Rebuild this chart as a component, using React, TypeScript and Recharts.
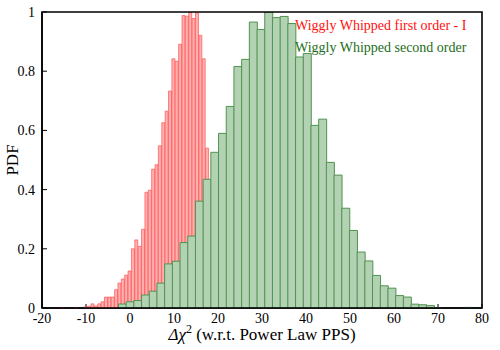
import React from 'react';
import { ComposedChart, Bar, XAxis, YAxis, ReferenceArea, Legend } from 'recharts';

const SERIF = '"Liberation Serif", "Times New Roman", "DejaVu Serif", serif';

// Axis ticks
const xTicks = [-20, -10, 0, 10, 20, 30, 40, 50, 60, 70, 80];
const yTicks = [0, 0.2, 0.4, 0.6, 0.8, 1];

// Wiggly Whipped first order - I : bin centres and normalised PDF
const firstOrderBins = [
  -15.38, -12.32, -10.02, -9.25, -8.49, -7.72, -6.95, -6.19, -5.42, -4.66,
  -3.89, -3.12, -2.36, -1.59, -0.83, -0.06, 0.71, 1.47, 2.24, 3.0,
  3.77, 4.54, 5.3, 6.07, 6.83, 7.6, 8.37, 9.13, 9.9, 10.66,
  11.43, 12.2, 12.96, 13.73, 14.49, 15.26, 16.03, 16.79, 17.56,
];
const firstOrderPdf = [
  0.002, 0.002, 0.004, 0.006, 0.014, 0.007, 0.014, 0.021, 0.037, 0.037,
  0.037, 0.062, 0.084, 0.098, 0.111, 0.125, 0.2, 0.23, 0.208, 0.266,
  0.391, 0.398, 0.469, 0.484, 0.548, 0.626, 0.665, 0.733, 0.842, 0.834,
  0.891, 0.988, 0.986, 1.0, 0.978, 0.997, 0.921, 0.842, 0.54,
];

// Wiggly Whipped second order : bin centres and normalised PDF
const secondOrderBins = [
  -1.75, 0, 1.75, 3.5, 5.25, 7.0, 8.75, 10.5, 12.25, 14.0,
  15.75, 17.5, 19.25, 21.0, 22.75, 24.5, 26.25, 28.0, 29.75, 31.5,
  33.25, 35.0, 36.75, 38.5, 40.25, 42.0, 43.75, 45.5, 47.25, 49.0,
  50.75, 52.5, 54.25, 56.0, 57.75, 59.5, 61.25, 63.0, 64.75, 66.5,
  68.25, 70.0, 77.0,
];
const secondOrderPdf = [
  0.0135, 0.021, 0.025, 0.044, 0.057, 0.084, 0.149, 0.158, 0.221, 0.243,
  0.361, 0.435, 0.526, 0.59, 0.681, 0.816, 0.84, 0.966, 0.941, 1.0,
  0.981, 0.985, 0.961, 0.848, 0.86, 0.617, 0.638, 0.492, 0.449, 0.337,
  0.262, 0.189, 0.159, 0.11, 0.075, 0.067, 0.042, 0.037, 0.013, 0.011,
  0.008, 0.001, 0.002,
];

const seriesNames = ['Wiggly Whipped first order - I', 'Wiggly Whipped second order'];
const xLabelMain = 'Δχ';
const xLabelRest = ' (w.r.t. Power Law PPS)';
const yLabel = 'PDF';

const firstOrderData = firstOrderBins.map((x, i) => ({ x, pdf: firstOrderPdf[i] }));
const secondOrderData = secondOrderBins.map((x, i) => ({ x, pdf: secondOrderPdf[i] }));

const W = 500;
const H = 350;
const PLOT_MARGIN = { top: 12, right: 18, bottom: 42, left: 42 };
const X_DOMAIN: [number, number] = [-20, 80];
const Y_DOMAIN: [number, number] = [0, 1];

const layer: React.CSSProperties = { position: 'absolute', left: 0, top: 0, fontFamily: SERIF };
const chartStyle: React.CSSProperties = { fontFamily: SERIF };
const tickStyle = { fontFamily: SERIF, fontSize: 14, fill: '#000', style: { fontFamily: SERIF } };

const renderXLabel = (props: any) => {
  const vb = props.viewBox || { x: 42, y: 308, width: 440, height: 42 };
  const cx = vb.x + vb.width / 2;
  const y = vb.y + 32;
  return (
    <text x={cx} y={y} textAnchor="middle" style={{ fontFamily: SERIF, fontSize: 17 }} fill="#000">
      <tspan style={{ fontStyle: 'italic' }}>{xLabelMain}</tspan>
      <tspan dy={-7} style={{ fontSize: 12 }}>2</tspan>
      <tspan dy={7}>{xLabelRest}</tspan>
    </text>
  );
};

const renderYLabel = (props: any) => {
  const vb = props.viewBox || { x: 0, y: 12, width: 42, height: 296 };
  const cy = vb.y + vb.height / 2;
  const x = vb.x + 18;
  return (
    <text
      x={x}
      y={cy}
      textAnchor="middle"
      style={{ fontFamily: SERIF, fontSize: 17 }}
      fill="#000"
      transform={`rotate(-90, ${x}, ${cy})`}
    >
      {yLabel}
    </text>
  );
};

const LegendContent = () => (
  <div style={{ fontFamily: SERIF, fontSize: 14, lineHeight: '22px', whiteSpace: 'nowrap' }}>
    <div style={{ color: '#ff1010' }}>{seriesNames[0]}</div>
    <div style={{ color: '#1b6e1b' }}>{seriesNames[1]}</div>
  </div>
);

export default function App() {
  return (
    <div style={{ position: 'absolute', left: 0, top: 0, width: W, height: H, background: '#fff', fontFamily: SERIF }}>
      {/* Axes, ticks and labels (drawn beneath the bars) */}
      <div style={layer}>
        <ComposedChart width={W} height={H} data={firstOrderData} margin={{ top: 12, right: 18, bottom: 0, left: 0 }} style={chartStyle}>
          <XAxis
            dataKey="x"
            type="number"
            domain={X_DOMAIN}
            ticks={xTicks}
            interval={0}
            allowDataOverflow
            height={42}
            tickSize={-4}
            tickMargin={9}
            tick={tickStyle}
            axisLine={{ stroke: '#000', strokeWidth: 1.5 }}
            tickLine={{ stroke: '#000', strokeWidth: 1 }}
            label={{ content: renderXLabel }}
          />
          <YAxis
            type="number"
            domain={Y_DOMAIN}
            ticks={yTicks}
            interval={0}
            allowDataOverflow
            width={42}
            tickSize={-5}
            tickMargin={12}
            tick={tickStyle}
            axisLine={{ stroke: '#000', strokeWidth: 1.5 }}
            tickLine={{ stroke: '#000', strokeWidth: 1 }}
            label={{ content: renderYLabel }}
          />
        </ComposedChart>
      </div>

      {/* First order histogram */}
      <div style={layer}>
        <ComposedChart width={W} height={H} data={firstOrderData} margin={PLOT_MARGIN} barCategoryGap={0} barGap={0}>
          <XAxis dataKey="x" type="number" domain={X_DOMAIN} allowDataOverflow hide />
          <YAxis type="number" domain={Y_DOMAIN} allowDataOverflow hide />
          <Bar
            dataKey="pdf"
            name={seriesNames[0]}
            fill="#ffb0b0"
            stroke="#ff4040"
            strokeWidth={0.6}
            isAnimationActive={false}
          />
        </ComposedChart>
      </div>

      {/* Second order histogram */}
      <div style={layer}>
        <ComposedChart width={W} height={H} data={secondOrderData} margin={PLOT_MARGIN} barCategoryGap={0} barGap={0}>
          <XAxis dataKey="x" type="number" domain={X_DOMAIN} allowDataOverflow hide />
          <YAxis type="number" domain={Y_DOMAIN} allowDataOverflow hide />
          <Bar
            dataKey="pdf"
            name={seriesNames[1]}
            fill="#b3d2b3"
            stroke="#4f934f"
            strokeWidth={1}
            isAnimationActive={false}
          />
          <Legend
            layout="vertical"
            align="center"
            verticalAlign="middle"
            wrapperStyle={{ top: 15, left: 295, width: 'auto', height: 'auto' }}
            content={<LegendContent />}
          />
        </ComposedChart>
      </div>

      {/* Frame */}
      <div style={layer}>
        <ComposedChart width={W} height={H} data={secondOrderData} margin={PLOT_MARGIN}>
          <XAxis dataKey="x" type="number" domain={X_DOMAIN} allowDataOverflow hide />
          <YAxis type="number" domain={Y_DOMAIN} allowDataOverflow hide />
          <ReferenceArea
            x1={X_DOMAIN[0]}
            x2={X_DOMAIN[1]}
            y1={Y_DOMAIN[0]}
            y2={Y_DOMAIN[1]}
            fill="none"
            fillOpacity={0}
            stroke="#000"
            strokeWidth={1.6}
            ifOverflow="visible"
          />
        </ComposedChart>
      </div>
    </div>
  );
}
